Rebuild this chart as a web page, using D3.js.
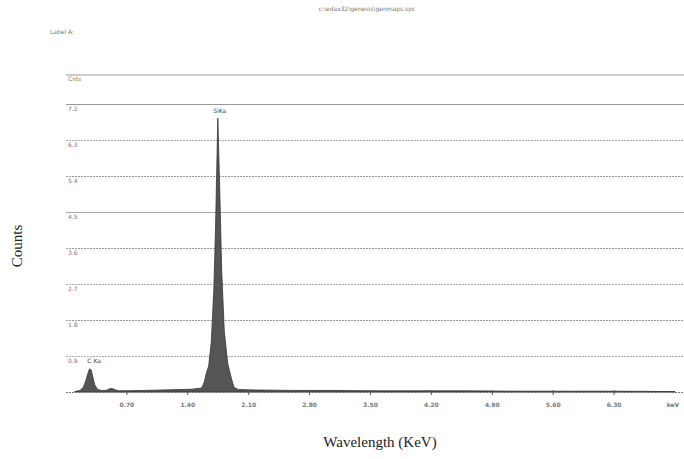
<!DOCTYPE html>
<html>
<head>
<meta charset="utf-8">
<script src="https://cdn.jsdelivr.net/npm/d3@7"></script>
<style>
  body { margin: 0; background: #fff; }
  svg { display: block; }
  .small { font-family: "DejaVu Sans", sans-serif; font-size: 6px; fill: #777; }
  .big { font-family: "Liberation Serif", "DejaVu Serif", serif; fill: #222; }
</style>
</head>
<body>
<svg id="chart" width="684" height="459"></svg>
<script>
(function () {
  // energy (keV) and counts (same units as the y tick labels)
  const energy = [0.10, 0.16, 0.20, 0.23, 0.25, 0.27, 0.29, 0.31, 0.33, 0.36, 0.40, 0.46, 0.50, 0.53, 0.56, 0.60,
    0.70, 0.90, 1.10, 1.30, 1.45, 1.56, 1.59, 1.61, 1.64, 1.67, 1.70, 1.72, 1.745, 1.77, 1.79, 1.82, 1.86, 1.90,
    1.93, 1.98, 2.20, 2.60, 3.00, 3.50, 4.00, 4.60, 5.20, 5.80, 6.40, 7.00];
  const counts = [0.01, 0.04, 0.12, 0.30, 0.45, 0.58, 0.55, 0.36, 0.18, 0.07, 0.04, 0.04, 0.08, 0.09, 0.06, 0.03,
    0.03, 0.04, 0.05, 0.06, 0.07, 0.10, 0.25, 0.45, 0.65, 1.25, 2.60, 4.20, 6.85, 4.80, 3.00, 1.50, 0.70, 0.35,
    0.12, 0.06, 0.05, 0.04, 0.04, 0.03, 0.03, 0.03, 0.02, 0.02, 0.02, 0.01];

  const xTicks = [0.70, 1.40, 2.10, 2.80, 3.50, 4.20, 4.90, 5.60, 6.30];
  const yTicks = [0.9, 1.8, 2.7, 3.6, 4.5, 5.4, 6.3, 7.2];
  const yTickLabels = ["0.9", "1.8", "2.7", "3.6", "4.5", "5.4", "6.3", "7.2"];
  const peaks = [{ label: "C Ka", e: 0.30, c: 0.60 }, { label: "SiKa", e: 1.745, c: 6.85 }];

  const svg = d3.select("#chart");
  const left = 66, right = 684, top = 75, bottom = 392;

  const x = d3.scaleLinear().domain([0, 7.1]).range([left, left + 7.1 * 87]);
  const y = d3.scaleLinear().domain([0, 7.2]).range([bottom, 104]);

  // header text
  svg.append("text").attr("class", "small").attr("x", 367).attr("y", 11)
    .attr("text-anchor", "middle").text("c:\\edax32\\genesis\\genmaps.spc");
  svg.append("text").attr("class", "small").attr("x", 50).attr("y", 34).text("Label A:");

  // gridlines
  const grid = svg.append("g");
  grid.append("line").attr("x1", left).attr("x2", right).attr("y1", top).attr("y2", top)
    .attr("stroke", "#999").attr("stroke-width", 1);
  grid.append("text").attr("class", "small").attr("x", left + 2).attr("y", top + 6).text("Cnts");
  grid.selectAll(".g").data(yTicks).enter().append("line")
    .attr("x1", left).attr("x2", right)
    .attr("y1", d => Math.round(y(d)) + 0.5).attr("y2", d => Math.round(y(d)) + 0.5)
    .attr("stroke", (d, i) => i % 2 ? "#999" : "#aaa")
    .attr("stroke-dasharray", (d, i) => i === 7 || i === 4 ? null : "2,1");
  grid.selectAll(".yl").data(yTicks).enter().append("text")
    .attr("class", "small").attr("x", left + 2).attr("y", d => y(d) + 7)
    .text((d, i) => yTickLabels[i]);

  // spectrum
  const area = d3.area()
    .x((d, i) => x(energy[i]))
    .y0(bottom)
    .y1((d, i) => y(counts[i]));
  svg.append("path").datum(counts)
    .attr("d", area)
    .attr("fill", "#555")
    .attr("stroke", "#333")
    .attr("stroke-width", 0.8);

  // baseline axis
  svg.append("line").attr("x1", left).attr("x2", right).attr("y1", bottom + 0.5).attr("y2", bottom + 0.5)
    .attr("stroke", "#777").attr("stroke-dasharray", "2,1");
  const xAxis = svg.append("g");
  xAxis.selectAll("line").data(xTicks).enter().append("line")
    .attr("x1", d => x(d)).attr("x2", d => x(d)).attr("y1", bottom - 2).attr("y2", bottom + 3)
    .attr("stroke", "#555");
  xAxis.selectAll("text").data(xTicks).enter().append("text")
    .attr("class", "small").attr("x", d => x(d)).attr("y", bottom + 15)
    .attr("text-anchor", "middle").style("font-weight", "bold").text(d => d.toFixed(2));
  svg.append("text").attr("class", "small").attr("x", 673).attr("y", bottom + 15)
    .attr("text-anchor", "middle").style("font-weight", "bold").text("keV");

  // peak labels
  svg.selectAll(".pk").data(peaks).enter().append("text")
    .attr("class", "small").attr("x", d => x(d.e) + 2).attr("y", d => y(d.c) - 5)
    .attr("text-anchor", "middle").style("fill", "#444").text(d => d.label);

  // axis titles
  svg.append("text").attr("class", "big").attr("transform", "translate(22,246) rotate(-90)")
    .attr("text-anchor", "middle").style("font-size", "15px").text("Counts");
  svg.append("text").attr("class", "big").attr("x", 380).attr("y", 447)
    .attr("text-anchor", "middle").style("font-size", "15px").text("Wavelength (KeV)");
})();
</script>
</body>
</html>
